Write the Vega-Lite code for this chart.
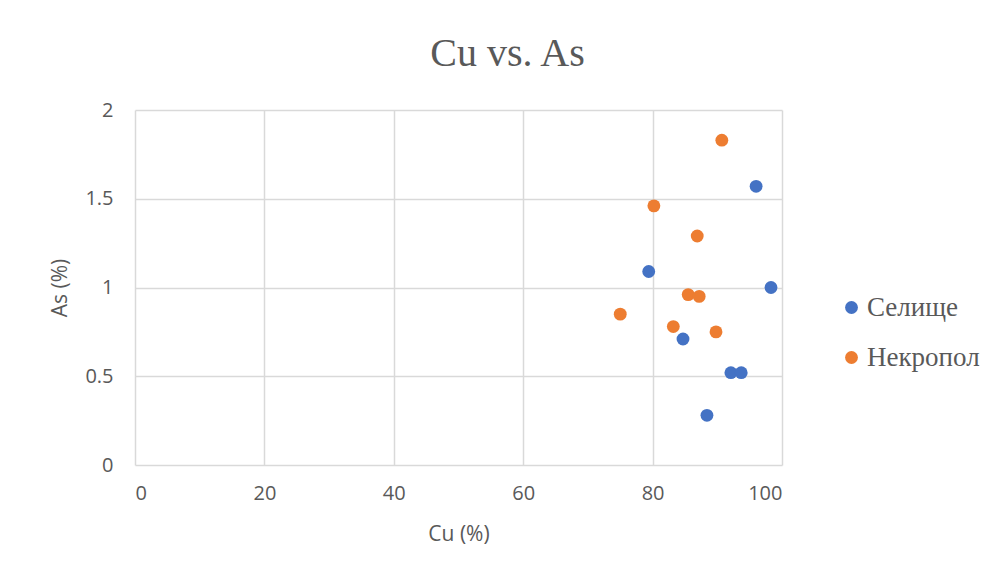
{
  "$schema": "https://vega.github.io/schema/vega-lite/v6.json",
  "autosize": {"type": "none"},
  "width": 647,
  "height": 355,
  "padding": {"left": 135, "top": 110, "right": 213, "bottom": 113},
  "background": "white",
  "title": {
    "text": "Cu vs. As",
    "font": "Liberation Serif",
    "fontSize": 40,
    "fontWeight": "normal",
    "color": "#595959",
    "anchor": "middle",
    "dx": 49,
    "offset": 26
  },
  "data": {
    "values": [
      {"series": "Селище", "cu": 79.4, "as": 1.09},
      {"series": "Селище", "cu": 84.7, "as": 0.71},
      {"series": "Селище", "cu": 88.4, "as": 0.28},
      {"series": "Селище", "cu": 92.1, "as": 0.52},
      {"series": "Селище", "cu": 93.7, "as": 0.52},
      {"series": "Селище", "cu": 96.0, "as": 1.57},
      {"series": "Селище", "cu": 98.3, "as": 1.0},
      {"series": "Некропол", "cu": 75.0, "as": 0.85},
      {"series": "Некропол", "cu": 80.2, "as": 1.46},
      {"series": "Некропол", "cu": 83.2, "as": 0.78},
      {"series": "Некропол", "cu": 85.5, "as": 0.96},
      {"series": "Некропол", "cu": 87.2, "as": 0.95},
      {"series": "Некропол", "cu": 86.9, "as": 1.29},
      {"series": "Некропол", "cu": 89.8, "as": 0.75},
      {"series": "Некропол", "cu": 90.7, "as": 1.83}
    ]
  },
  "mark": {"type": "point", "filled": true, "opacity": 1, "size": 165, "shape": "circle"},
  "encoding": {
    "x": {
      "field": "cu", "type": "quantitative", "title": "Cu (%)",
      "scale": {"domain": [0, 100], "nice": false},
      "axis": {"values": [0, 20, 40, 60, 80, 100], "domain": false, "ticks": false,
        "gridColor": "#d9d9d9", "gridWidth": 1.5,
        "labelFont": "Open Sans", "labelFontSize": 20, "labelColor": "#595959", "labelPadding": 18,
        "titleFont": "Open Sans", "titleFontSize": 21, "titleFontWeight": "normal", "titleColor": "#595959", "titlePadding": 20}
    },
    "y": {
      "field": "as", "type": "quantitative", "title": "As (%)",
      "scale": {"domain": [0, 2], "nice": false},
      "axis": {"values": [0, 0.5, 1, 1.5, 2], "format": "~g", "domain": false, "ticks": false,
        "gridColor": "#d9d9d9", "gridWidth": 1.5,
        "labelFont": "Open Sans", "labelFontSize": 20, "labelColor": "#595959", "labelPadding": 22,
        "titleFont": "Open Sans", "titleFontSize": 21, "titleFontWeight": "normal", "titleColor": "#595959", "titlePadding": 14}
    },
    "color": {
      "field": "series", "type": "nominal", "title": null,
      "scale": {"domain": ["Селище", "Некропол"], "range": ["#4472C4", "#ED7D31"]},
      "legend": {"orient": "none", "legendX": 703, "legendY": 184,
        "labelFont": "Liberation Serif", "labelFontSize": 27, "labelColor": "#595959",
        "symbolType": "circle", "symbolSize": 165, "rowPadding": 22, "labelOffset": 2}
    }
  },
  "config": {"view": {"stroke": null}}
}
